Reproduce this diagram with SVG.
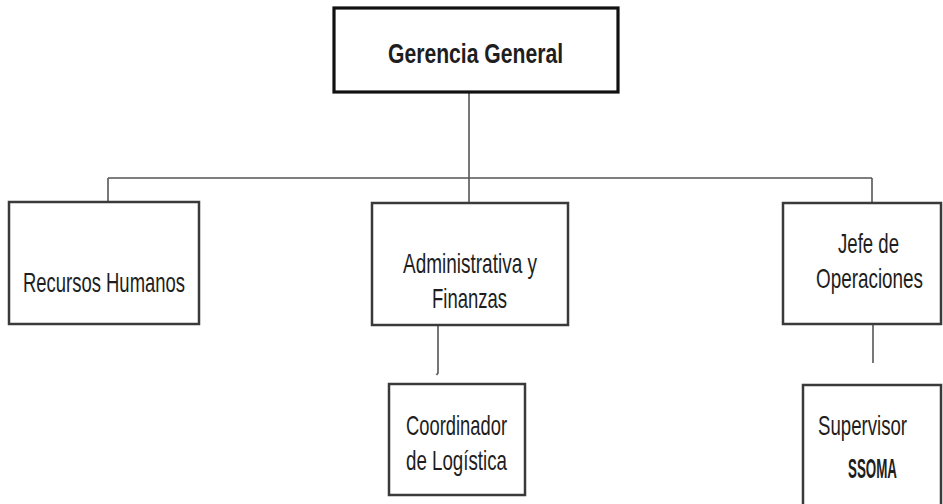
<svg xmlns="http://www.w3.org/2000/svg" width="943" height="504" viewBox="0 0 943 504">
<style>
.box{fill:#fff;stroke:#3a3a3a;stroke-width:2.5}
.top{fill:#fff;stroke:#111;stroke-width:3.2}
.t{font-family:"Liberation Sans",Arial,sans-serif;font-size:28px;fill:#1e1e1e}
.b{font-weight:bold}
.c{fill:none;stroke:#555;stroke-width:1.6}
</style>
<rect width="943" height="504" fill="#fff"/>
<g id="connectors">
<line class="c" x1="469" y1="92" x2="469" y2="178"/>
<line class="c" x1="108" y1="178" x2="872" y2="178"/>
<line class="c" x1="108" y1="178" x2="108" y2="202"/>
<line class="c" x1="469" y1="178" x2="469" y2="203"/>
<line class="c" x1="872" y1="178" x2="872" y2="203"/>
<path class="c" d="M438 325 V373 L436.5 375"/>
<line class="c" x1="873" y1="324" x2="873" y2="363"/>
</g>
<g id="gerencia-general">
<rect class="top" x="334" y="8" width="284" height="84"/>
<text class="t b" x="388" y="63" font-size="30" textLength="175" lengthAdjust="spacingAndGlyphs">Gerencia General</text>
</g>
<g id="recursos-humanos">
<rect class="box" x="9" y="202" width="190" height="122"/>
<text class="t" x="23" y="292" textLength="162" lengthAdjust="spacingAndGlyphs">Recursos Humanos</text>
</g>
<g id="administrativa-finanzas">
<rect class="box" x="372" y="203" width="196" height="122"/>
<text class="t" x="403" y="273" textLength="134" lengthAdjust="spacingAndGlyphs">Administrativa y</text>
<text class="t" x="432" y="308" textLength="75" lengthAdjust="spacingAndGlyphs">Finanzas</text>
</g>
<g id="jefe-operaciones">
<rect class="box" x="783" y="203" width="158" height="121"/>
<text class="t" x="838" y="253" textLength="61" lengthAdjust="spacingAndGlyphs">Jefe de</text>
<text class="t" x="816" y="288" textLength="107" lengthAdjust="spacingAndGlyphs">Operaciones</text>
</g>
<g id="coordinador-logistica">
<rect class="box" x="389" y="384" width="136" height="111"/>
<text class="t" x="406" y="435" textLength="101" lengthAdjust="spacingAndGlyphs">Coordinador</text>
<text class="t" x="406" y="470" textLength="101" lengthAdjust="spacingAndGlyphs">de Logística</text>
</g>
<g id="supervisor-ssoma">
<rect class="box" x="803" y="385" width="138" height="130"/>
<text class="t" x="818" y="435" textLength="89" lengthAdjust="spacingAndGlyphs">Supervisor</text>
<text class="t b" x="848" y="478" font-size="21" textLength="49" lengthAdjust="spacingAndGlyphs">SSOMA</text>
</g>
</svg>
